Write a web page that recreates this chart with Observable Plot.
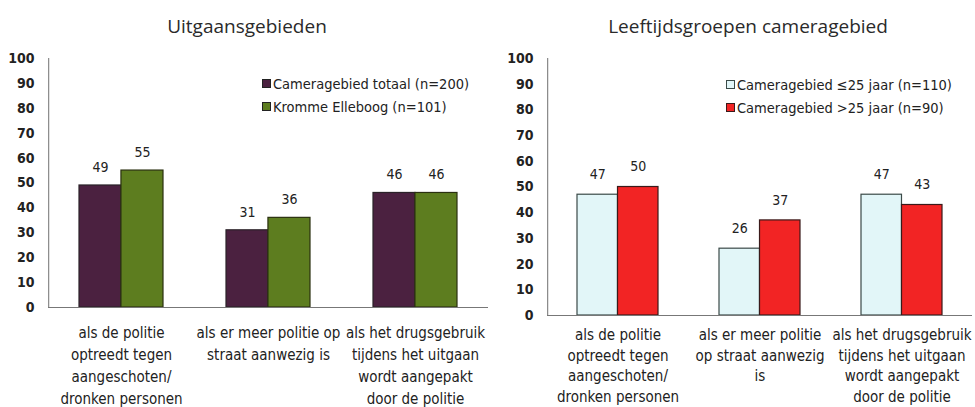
<!DOCTYPE html>
<html><head><meta charset="utf-8">
<script src="https://cdn.jsdelivr.net/npm/d3@7"></script>
<script src="https://cdn.jsdelivr.net/npm/@observablehq/plot@0.6"></script>
<style>
body{margin:0;background:#fff;}
#wrap{position:relative;width:975px;height:407px;overflow:hidden;font-family:"DejaVu Sans Condensed","Liberation Sans Narrow",sans-serif;color:#222;}
.title{position:absolute;top:13px;font-size:19px;white-space:nowrap;transform:translateX(-50%);color:#2a2a2a;font-family:"Open Sans","DejaVu Sans",sans-serif;}
.leg{position:absolute;font-size:14.5px;white-space:nowrap;line-height:15px;}
.leg span.sw{display:inline-block;width:7px;height:7px;border:1px solid #333;margin-right:2px;vertical-align:1px;}
</style></head>
<body><div id="wrap"></div>
<script>
const titleLeft = "Uitgaansgebieden";
const titleRight = "Leeftijdsgroepen cameragebied";
const categoriesLeft = [
  "als de politie\noptreedt tegen\naangeschoten/\ndronken personen",
  "als er meer politie op\nstraat aanwezig is",
  "als het drugsgebruik\ntijdens het uitgaan\nwordt aangepakt\ndoor de politie"
];
const categoriesRight = [
  "als de politie\noptreedt tegen\naangeschoten/\ndronken personen",
  "als er meer politie\nop straat aanwezig\nis",
  "als het drugsgebruik\ntijdens het uitgaan\nwordt aangepakt\ndoor de politie"
];
const seriesLeft = ["Cameragebied totaal (n=200)", "Kromme Elleboog (n=101)"];
const valuesTotaal = [49, 31, 46];
const valuesKromme = [55, 36, 46];
const seriesRight = ["Cameragebied \u226425 jaar (n=110)", "Cameragebied >25 jaar (n=90)"];
const valuesJong = [47, 26, 47];
const valuesOud = [50, 37, 43];
const yTicks = [0, 10, 20, 30, 40, 50, 60, 70, 80, 90, 100];

const wrap = document.getElementById("wrap");
const PI = 0.43, PO = 0.21;

function panel(opts) {
  const {left, width, marginLeft, marginRight, marginTop, marginBottom, cats, vals, colors, strokes, labelDy, tickPad, lineHeight} = opts;
  const step = (width - marginLeft - marginRight) / (cats.length - PI + 2 * PO);
  const half = step * (1 - PI) / 2;
  const toEdge = PO * step + half;
  const dataA = cats.map((c, i) => ({cat: c, value: vals[0][i]}));
  const dataB = cats.map((c, i) => ({cat: c, value: vals[1][i]}));
  const chart = Plot.plot({
    width, height: 407,
    marginLeft, marginRight, marginTop, marginBottom,
    style: {fontFamily: '"DejaVu Sans Condensed","Liberation Sans Narrow",sans-serif', fontSize: "14px", color: "#222", background: "transparent"},
    x: {domain: cats, paddingInner: PI, paddingOuter: PO, axis: null},
    y: {domain: [0, 100], axis: null},
    marks: [
      Plot.barY(dataA, {x: "cat", y: "value", fill: colors[0], stroke: strokes[0], strokeWidth: 1.2, insetRight: half}),
      Plot.barY(dataB, {x: "cat", y: "value", fill: colors[1], stroke: strokes[1], strokeWidth: 1.2, insetLeft: half}),
      Plot.text(dataA, {x: "cat", y: "value", text: d => String(d.value), dx: -half / 2, dy: labelDy, fontSize: 14, fill: "#222"}),
      Plot.text(dataB, {x: "cat", y: "value", text: d => String(d.value), dx: half / 2, dy: labelDy, fontSize: 14, fill: "#222"}),
      Plot.ruleY([0], {stroke: "#777", strokeWidth: 1.2}),
      Plot.ruleX([cats[0]], {x: d => d, y1: 0, y2: 100, dx: -toEdge, stroke: "#888", strokeWidth: 1.2}),
      Plot.axisY({ticks: yTicks, tickSize: 0, tickPadding: 14, fontSize: 14, fontWeight: 600, fill: "#222", label: null}),
      Plot.axisX({tickSize: 0, tickPadding: tickPad, fontSize: 15, lineHeight, fill: "#222", label: null})
    ]
  });
  chart.style.position = "absolute";
  chart.style.left = left + "px";
  chart.style.top = "0px";
  wrap.appendChild(chart);
}

panel({left: 0, width: 490, marginLeft: 48, marginRight: 2, marginTop: 58, marginBottom: 100,
  cats: categoriesLeft, vals: [valuesTotaal, valuesKromme], colors: ["#4b2140", "#5d7d1f"], strokes: ["#2a2228", "#2a3010"],
  labelDy: -18, tickPad: 15, lineHeight: 1.47});
panel({left: 490, width: 485, marginLeft: 57, marginRight: 3, marginTop: 58, marginBottom: 92,
  cats: categoriesRight, vals: [valuesJong, valuesOud], colors: ["#e2f6f8", "#f22424"], strokes: ["#3b4a48", "#3a1a1a"],
  labelDy: -20, tickPad: 10, lineHeight: 1.37});

function addTitle(text, cx) {
  const d = document.createElement("div");
  d.className = "title"; d.textContent = text; d.style.left = cx + "px";
  wrap.appendChild(d);
}
addTitle(titleLeft, 247);
addTitle(titleRight, 748);

function addLegend(x, y, labels, colors, strokes) {
  labels.forEach((lab, i) => {
    const d = document.createElement("div");
    d.className = "leg";
    d.style.left = x + "px"; d.style.top = (y + i * 23) + "px";
    const sw = document.createElement("span");
    sw.className = "sw"; sw.style.background = colors[i]; sw.style.borderColor = strokes[i];
    d.appendChild(sw);
    d.appendChild(document.createTextNode(lab));
    wrap.appendChild(d);
  });
}
addLegend(262, 77, seriesLeft, ["#4b2140", "#5d7d1f"], ["#222", "#222"]);
addLegend(726, 78, seriesRight, ["#e2f6f8", "#f22424"], ["#3b4a48", "#3a1a1a"]);
</script></body></html>
